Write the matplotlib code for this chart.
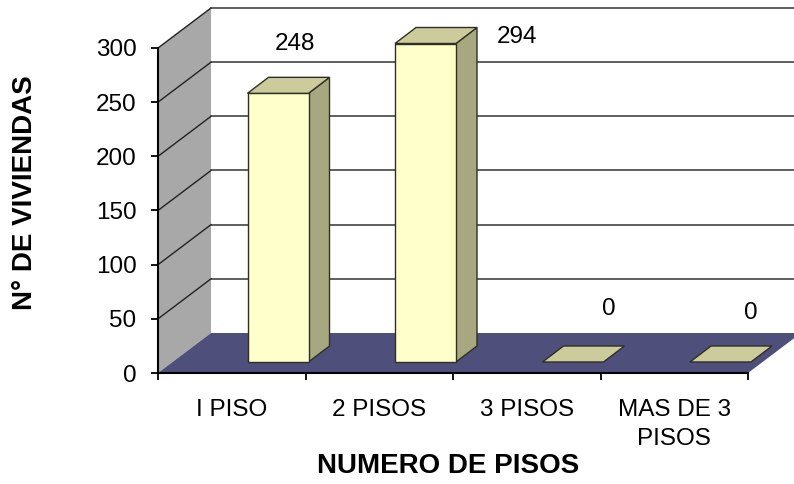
import matplotlib
matplotlib.use("Agg")
import matplotlib.pyplot as plt
from matplotlib.patches import Polygon

plt.rcParams["font.family"] = ["Liberation Sans", "DejaVu Sans"]

# data
categories = ["I PISO", "2 PISOS", "3 PISOS", "MAS DE 3\nPISOS"]
viviendas = [248, 294, 0, 0]
y_ticks = [0, 50, 100, 150, 200, 250, 300]

# label offsets from bar top, in points
label_offsets = [(19.5, 35.5), (73.5, 4.5), (42.5, 38.5), (39, 35.5)]

W, H = 794, 484
fig = plt.figure(figsize=(W / 100, H / 100), dpi=100)

# front plane of the fake 3d box
ax = fig.add_axes([158 / W, 1 - 373 / H, 590 / W, 325 / H])
ax.set_xlim(0, 4)
ax.set_ylim(0, 300)

# depth of the box and of the bars, in data units
px_x = 4 / 590
px_y = 300 / 325
box_dx, box_dy = 53 * px_x, 40 * px_y
bar_dx, bar_dy = 21 * px_x, 16 * px_y
bar_w = 61 * px_x
bar_left = (247.5 - 158) * px_x
bar_base = 11 * px_y


def poly(points, face, edge="none", lw=0.0, z=2):
    ax.add_patch(Polygon(points, closed=True, facecolor=face, edgecolor=edge,
                         linewidth=lw, zorder=z, clip_on=False))


# walls and floor
poly([(0, 0), (box_dx, box_dy), (box_dx, 300 + box_dy), (0, 300)], "#a8a8a8")
poly([(0, 0), (4, 0), (4 + box_dx, box_dy), (box_dx, box_dy)], "#4f4f7b")

# gridlines on the back and left walls
for t in y_ticks[1:]:
    ax.plot([0, box_dx], [t, t + box_dy], color="#222222", lw=1.0, zorder=2.5, clip_on=False)
    ax.plot([box_dx, 4 + box_dx], [t + box_dy, t + box_dy], color="#333333", lw=1.1,
            zorder=2.5, clip_on=False)

# bars
for i, v in enumerate(viviendas):
    x0 = i + bar_left
    x1 = x0 + bar_w
    y0 = bar_base
    y1 = bar_base + v
    if v > 0:
        poly([(x1, y0), (x1 + bar_dx, y0 + bar_dy), (x1 + bar_dx, y1 + bar_dy), (x1, y1)],
             "#a8a880", "#2f2f24", 1.0, 3)
        poly([(x0, y0), (x1, y0), (x1, y1), (x0, y1)], "#ffffcc", "#2f2f24", 1.0, 3)
    poly([(x0, y1), (x1, y1), (x1 + bar_dx, y1 + bar_dy), (x0 + bar_dx, y1 + bar_dy)],
         "#cbcb9c", "#2f2f24", 1.0, 3)
    ax.annotate(str(v), (x0, y1), xytext=label_offsets[i], textcoords="offset points",
                fontsize=17.5, ha="left", va="center", annotation_clip=False, zorder=5)

# axes
for s in ["top", "right"]:
    ax.spines[s].set_visible(False)
for s in ["left", "bottom"]:
    ax.spines[s].set_linewidth(1.5)
    ax.spines[s].set_zorder(4)
ax.patch.set_visible(False)

ax.set_yticks(y_ticks)
ax.tick_params(axis="y", labelsize=17.5, length=5, width=1.3, pad=10.5)
ax.set_xticks(range(5))
ax.set_xticklabels([])
ax.set_xticks([i + 0.5 for i in range(4)], minor=True)
ax.set_xticklabels(categories, minor=True, fontsize=17.5, linespacing=1.4)
ax.tick_params(axis="x", which="major", length=5, width=1.3)
ax.tick_params(axis="x", which="minor", length=0, pad=19)

fig.text(448 / W, 1 - 466 / H, "NUMERO DE PISOS", fontsize=20, fontweight="bold",
         ha="center", va="center")
fig.text(25.5 / W, 1 - 193 / H, "N° DE VIVIENDAS", fontsize=20, fontweight="bold",
         rotation=90, ha="center", va="center")

fig.savefig("out.png", dpi=100)
